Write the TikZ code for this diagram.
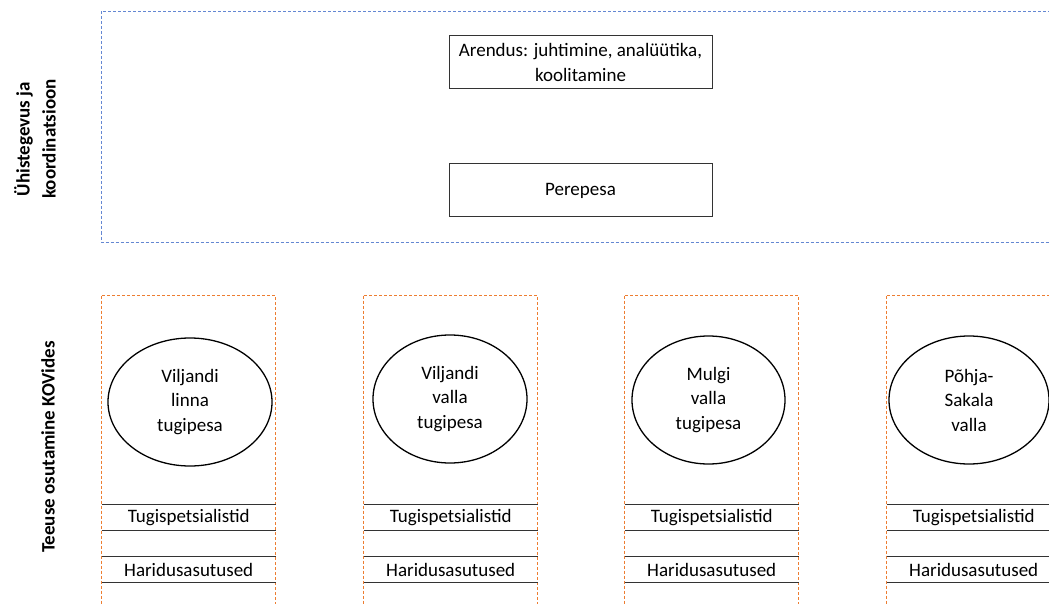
\documentclass[tikz,border=0pt]{standalone}
\usepackage{fontspec}
\setmainfont{Carlito}
\usetikzlibrary{shapes,positioning}
\definecolor{yhisblue}{RGB}{100,135,210}
\definecolor{kovorange}{RGB}{237,125,49}
\tikzset{every node/.style={font=\fontsize{19}{24.5}\selectfont}}
\tikzset{yhis/.style={draw=yhisblue, line width=1.2pt, dash pattern=on 3pt off 2pt}}
\tikzset{kov/.style={draw=kovorange, line width=1.2pt, dash pattern=on 3pt off 2pt}}
\tikzset{box/.style={shape=rectangle, draw=black!80, line width=1pt,
    minimum width=263pt, minimum height=53pt, inner sep=0pt, align=center}}
\tikzset{pesa/.style={shape=ellipse, draw, line width=1.3pt, minimum height=128pt,
    inner sep=0pt, align=center}}
\tikzset{rida/.style={shape=rectangle, minimum width=174pt, minimum height=26pt,
    inner sep=0pt}}
\tikzset{silt/.style={rotate=90, align=center, font=\fontsize{19}{26}\selectfont\bfseries}}

\begin{document}
\begin{tikzpicture}[x=1pt, y=-1pt]
    \useasboundingbox (0,0) rectangle (1049,604);
    \clip (0,0) rectangle (1049,604);

    \draw[yhis] (101.5,11.5) rectangle (1070,242.5);
    \node[silt] (yhissilt) at (35,139) {Ühistegevus ja\\koordinatsioon};
    \node[box] (arendus) at (580.5,62.5) {Arendus: juhtimine, analüütika,\\koolitamine};
    \node[box] (perepesa) at (580.5,190.5) {Perepesa};

    \node[silt] (kovsilt) at (48,447) {Teeuse osutamine KOVides};

    \foreach \n/\x/\ex/\ey/\ew/\t in {vl/101.5/190/402/164/{Viljandi\\linna\\tugipesa},
        vv/363.5/450/399/154/{Viljandi\\valla\\tugipesa},
        mv/624.5/708.5/400/153/{Mulgi\\valla\\tugipesa},
        ps/886.5/969/400/160/{Põhja-\\Sakala\\valla}}
    {
      \draw[kov] (\x,295.5) rectangle +(174,330);
      \node[pesa, minimum width=\ew pt] (pesa\n) at (\ex,\ey) {\t};
      \node[rida, anchor=north west] (tugi\n) at (\x,504.5) {Tugispetsialistid};
      \node[rida, anchor=north west] (vahe\n) at (\x,530.5) {};
      \node[rida, anchor=north west] (hari\n) at (\x,556.5) {Haridusasutused};
      \draw[black!80, line width=1pt] (tugi\n.north west) -- (tugi\n.north east)
        (tugi\n.south west) -- (tugi\n.south east)
        (hari\n.north west) -- (hari\n.north east)
        (hari\n.south west) -- (hari\n.south east);
    }
\end{tikzpicture}
\end{document}
